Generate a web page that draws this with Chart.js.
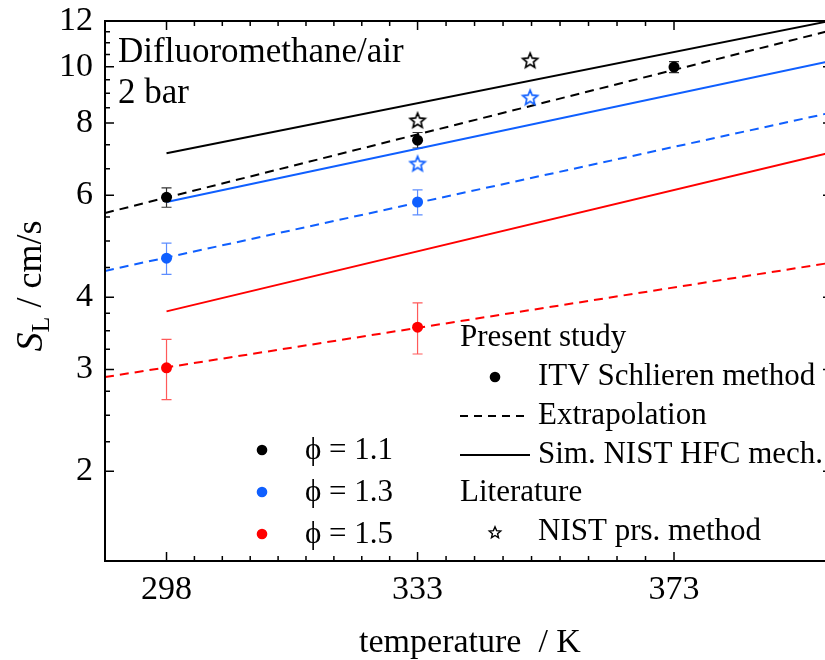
<!DOCTYPE html>
<html>
<head>
<meta charset="utf-8">
<script src="https://cdn.jsdelivr.net/npm/chart.js@4.4.1/dist/chart.umd.min.js"></script>
<style>
  html, body { margin: 0; padding: 0; background: #fff; overflow: hidden; }
  #wrap { width: 825px; height: 660px; overflow: hidden; }
  canvas { display: block; }
</style>
</head>
<body>
<div id="wrap"><canvas id="chart" width="850" height="660"></canvas></div>
<script>
// temperatures in K
const tempMeas = [298, 333, 373];
const tempLit = [333, 350];
const tempSim = [298, 400];
const tempExtrap = [290, 400];

// ITV Schlieren measurements (cm/s) and error
const measPhi11 = [5.95, 7.47, 9.99];
const errPhi11 = [0.23, 0.23, 0.22];
const measPhi13 = [4.67, 5.84];
const errPhi13 = [0.29, 0.29];
const measPhi15 = [3.02, 3.55];
const errPhi15 = [0.36, 0.36];

// extrapolation lines
const extPhi11 = [5.59, 11.57];
const extPhi13 = [4.44, 8.34];
const extPhi15 = [2.91, 4.59];

// simulation, NIST HFC mechanism
const simPhi11 = [7.09, 12.02];
const simPhi13 = [5.84, 10.25];
const simPhi15 = [3.78, 7.12];

// literature, NIST pressure method
const litPhi11 = [8.09, 10.27];
const litPhi13 = [6.81, 8.86];

const xTicks = [298, 333, 373];
const yTicks = [2, 3, 4, 6, 8, 10, 12];
const yMinor = [2.25, 2.5, 2.75, 3.25, 3.5, 3.75, 4.5, 5, 5.5, 6.667, 7.333, 8.5, 9, 9.5, 10.5, 11, 11.5];

const BLACK = "#000000";
const BLUE = "#0f5fff";
const RED = "#ff0000";
const SERIF = "'Liberation Serif', 'Times New Roman', serif";

function pts(xs, ys) {
  return ys.map((y, i) => ({ x: xs[i], y: y }));
}

function makeStar(color, r, lw) {
  const c = document.createElement("canvas");
  const s = Math.ceil(r * 2 + 4);
  c.width = s;
  c.height = s;
  const g = c.getContext("2d");
  g.beginPath();
  for (let i = 0; i < 10; i++) {
    const rad = i % 2 === 0 ? r : r * 0.45;
    const a = -Math.PI / 2 + (i * Math.PI) / 5;
    const px = s / 2 + rad * Math.cos(a);
    const py = s / 2 + 0.8 + rad * Math.sin(a);
    if (i === 0) g.moveTo(px, py);
    else g.lineTo(px, py);
  }
  g.closePath();
  g.lineJoin = "miter";
  g.lineWidth = lw;
  g.strokeStyle = color;
  g.stroke();
  return c;
}

function lineSet(xs, ys, color, dashed) {
  return {
    data: pts(xs, ys),
    showLine: true,
    borderColor: color,
    borderWidth: 2,
    borderDash: dashed ? [9, 6] : [],
    pointRadius: 0,
    clip: 0,
    order: 5,
  };
}

function dotSet(xs, ys, color, err) {
  return {
    data: pts(xs, ys),
    err: err,
    errColor: color,
    backgroundColor: color,
    borderColor: color,
    pointRadius: 5.5,
    borderWidth: 0,
    order: 1,
  };
}

function starSet(xs, ys, color) {
  return {
    data: pts(xs, ys),
    pointStyle: makeStar(color, 7.8, 1.7),
    order: 0,
  };
}

const datasets = [
  lineSet(tempExtrap, extPhi11, BLACK, true),
  lineSet(tempExtrap, extPhi13, BLUE, true),
  lineSet(tempExtrap, extPhi15, RED, true),
  lineSet(tempSim, simPhi11, BLACK, false),
  lineSet(tempSim, simPhi13, BLUE, false),
  lineSet(tempSim, simPhi15, RED, false),
  dotSet(tempMeas, measPhi11, BLACK, errPhi11),
  dotSet(tempMeas, measPhi13, BLUE, errPhi13),
  dotSet(tempMeas, measPhi15, RED, errPhi15),
  starSet(tempLit, litPhi11, BLACK),
  starSet(tempLit, litPhi13, BLUE),
];

const errColors = { [BLACK]: "#333333", [BLUE]: "#5d8dff", [RED]: "#ff5a5a" };

// error bars behind the dots
const errorBars = {
  id: "errorBars",
  beforeDatasetsDraw(chart) {
    const c = chart.ctx;
    const xs = chart.scales.x;
    const ys = chart.scales.y;
    c.save();
    chart.data.datasets.forEach((ds) => {
      if (!ds.err) return;
      c.strokeStyle = errColors[ds.errColor];
      c.lineWidth = 1.2;
      ds.data.forEach((p, i) => {
        const px = xs.getPixelForValue(p.x);
        const top = ys.getPixelForValue(p.y + ds.err[i]);
        const bot = ys.getPixelForValue(p.y - ds.err[i]);
        c.beginPath();
        c.moveTo(px, top);
        c.lineTo(px, bot);
        c.moveTo(px - 5, top);
        c.lineTo(px + 5, top);
        c.moveTo(px - 5, bot);
        c.lineTo(px + 5, bot);
        c.stroke();
      });
    });
    c.restore();
  },
};

// frame, inward ticks, titles and legends
const decor = {
  id: "decor",
  afterDraw(chart) {
    const c = chart.ctx;
    const a = chart.chartArea;
    const xs = chart.scales.x;
    const ys = chart.scales.y;
    c.save();
    c.strokeStyle = "#000";
    c.lineWidth = 2;
    c.strokeRect(a.left, a.top, a.right - a.left, a.bottom - a.top);

    c.lineWidth = 1.5;
    c.beginPath();
    yTicks.forEach((v) => {
      const py = ys.getPixelForValue(v);
      c.moveTo(a.left, py); c.lineTo(a.left + 9, py);
      c.moveTo(a.right, py); c.lineTo(a.right - 9, py);
    });
    yMinor.forEach((v) => {
      const py = ys.getPixelForValue(v);
      c.moveTo(a.left, py); c.lineTo(a.left + 5, py);
      c.moveTo(a.right, py); c.lineTo(a.right - 5, py);
    });
    xTicks.forEach((v, i) => {
      const px = xs.getPixelForValue(v);
      c.moveTo(px, a.bottom); c.lineTo(px, a.bottom - 9);
      c.moveTo(px, a.top); c.lineTo(px, a.top + 9);
      if (i < xTicks.length - 1) {
        const next = xs.getPixelForValue(xTicks[i + 1]);
        for (let k = 1; k < 9; k++) {
          const mx = px + ((next - px) * k) / 9;
          c.moveTo(mx, a.bottom); c.lineTo(mx, a.bottom - 5);
          c.moveTo(mx, a.top); c.lineTo(mx, a.top + 5);
        }
      }
    });
    c.stroke();

    c.fillStyle = "#000";
    c.textBaseline = "middle";
    c.textAlign = "left";

    // annotation
    c.font = "35px " + SERIF;
    c.fillText("Difluoromethane/air", 118, 53);
    c.fillText("2 bar", 118, 94);

    // x title
    c.textAlign = "center";
    c.font = "34px " + SERIF;
    c.fillText("temperature  / K", 470, 643);

    // y title
    c.save();
    c.translate(32, 286);
    c.rotate(-Math.PI / 2);
    c.textAlign = "left";
    const t1 = "S";
    const t3 = " / cm/s";
    c.font = "italic 38px " + SERIF;
    const w1 = c.measureText(t1).width;
    c.font = "26px " + SERIF;
    const w2 = c.measureText("L").width;
    c.font = "36px " + SERIF;
    const w3 = c.measureText(t3).width;
    let sx = -(w1 + w2 + w3) / 2;
    c.font = "italic 38px " + SERIF;
    c.fillText(t1, sx, 0);
    sx += w1;
    c.font = "26px " + SERIF;
    c.fillText("L", sx, 10);
    sx += w2;
    c.font = "36px " + SERIF;
    c.fillText(t3, sx, 0);
    c.restore();

    // phi legend
    c.textAlign = "left";
    c.font = "31px " + SERIF;
    const phiRows = [["\u03D5 = 1.1", BLACK], ["\u03D5 = 1.3", BLUE], ["\u03D5 = 1.5", RED]];
    phiRows.forEach((r, i) => {
      const py = 450 + i * 42;
      c.fillStyle = r[1];
      c.beginPath();
      c.arc(262, py, 5.3, 0, Math.PI * 2);
      c.fill();
      c.fillStyle = "#000";
      c.fillText(r[0], 305, py + 1);
    });

    // method legend
    c.font = "31px " + SERIF;
    const rowY = [338, 377, 416, 455, 493, 532];
    c.fillText("Present study", 460, rowY[0]);
    c.beginPath();
    c.arc(495, rowY[1], 5.3, 0, Math.PI * 2);
    c.fill();
    c.fillText("ITV Schlieren method", 538, rowY[1]);
    c.lineWidth = 2;
    c.setLineDash([8, 6]);
    c.beginPath();
    c.moveTo(460, rowY[2]); c.lineTo(530, rowY[2]);
    c.stroke();
    c.setLineDash([]);
    c.fillText("Extrapolation", 538, rowY[2]);
    c.beginPath();
    c.moveTo(460, rowY[3]); c.lineTo(530, rowY[3]);
    c.stroke();
    c.fillText("Sim. NIST HFC mech.", 538, rowY[3]);
    c.fillText("Literature", 460, rowY[4]);
    const st = makeStar(BLACK, 6, 1.4);
    c.drawImage(st, 495 - st.width / 2, rowY[5] - st.height / 2);
    c.fillText("NIST prs. method", 538, rowY[5]);
    c.restore();
  },
};

const ctx = document.getElementById("chart").getContext("2d");
new Chart(ctx, {
  type: "scatter",
  data: { datasets: datasets },
  options: {
    responsive: false,
    animation: false,
    layout: { padding: { top: 21, right: 18, left: 0, bottom: 0 } },
    plugins: { legend: { display: false }, tooltip: { enabled: false } },
    scales: {
      x: {
        type: "logarithmic",
        min: 290,
        max: 400,
        grid: { display: false, drawTicks: false },
        border: { display: false },
        afterBuildTicks: (s) => { s.ticks = xTicks.map((v) => ({ value: v })); },
        afterFit: (s) => { s.height = 99; s.paddingLeft = 0; s.paddingRight = 0; },
        ticks: {
          autoSkip: false,
          maxRotation: 0,
          padding: 9,
          color: "#000",
          font: { family: SERIF, size: 34 },
          callback: (v) => String(v),
        },
      },
      y: {
        type: "logarithmic",
        min: 1.4,
        max: 12,
        grid: { display: false, drawTicks: false },
        border: { display: false },
        afterBuildTicks: (s) => { s.ticks = yTicks.map((v) => ({ value: v })); },
        afterFit: (s) => { s.width = 105; s.paddingTop = 0; s.paddingBottom = 0; },
        ticks: {
          autoSkip: false,
          padding: 12,
          color: "#000",
          font: { family: SERIF, size: 34 },
          callback: (v) => String(v),
        },
      },
    },
  },
  plugins: [errorBars, decor],
});
</script>
</body>
</html>
